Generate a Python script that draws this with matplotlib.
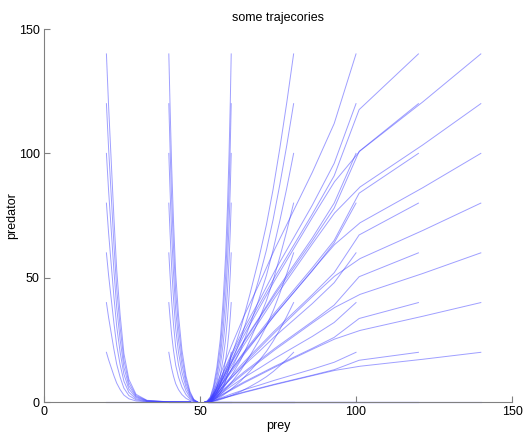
import matplotlib
matplotlib.use("Agg")
import matplotlib.pyplot as plt

# starting predator values for every prey column
start_pred = [20, 40, 60, 80, 100, 120, 140]

# prey path (shared by all starts in a column) and predator values per start
x20 = [20, 20.7, 21.5, 22.4, 23.3, 24.4, 25.6, 27.2, 29.5, 33, 40, 47]
y20 = [
    [20, 17, 14, 10.6, 7.6, 5, 2.8, 1.3, 0.44, 0.1, 0.01, 0],
    [40, 34, 28, 21.2, 15.2, 10, 5.6, 2.6, 0.88, 0.2, 0.02, 0],
    [60, 51, 42, 31.8, 22.8, 15, 8.4, 3.9, 1.3, 0.3, 0.03, 0],
    [80, 68, 56, 42.4, 30.4, 20, 11.2, 5.2, 1.8, 0.4, 0.04, 0],
    [100, 85, 70, 53, 38, 25, 14, 6.5, 2.2, 0.5, 0.05, 0],
    [120, 102, 84, 63.6, 45.6, 30, 16.8, 7.8, 2.6, 0.6, 0.06, 0],
    [140, 119, 98, 74.2, 53.2, 35, 19.6, 9.1, 3.1, 0.7, 0.07, 0],
]

x40 = [40, 40.4, 40.9, 41.5, 42.2, 43.1, 44.2, 45.5, 46.8, 48, 49.2]
y40 = [
    [20, 17, 13.6, 10.4, 7.4, 5, 3, 1.5, 0.6, 0.16, 0],
    [40, 34, 27.2, 20.8, 14.8, 10, 6, 3, 1.2, 0.32, 0],
    [60, 51, 40.8, 31.2, 22.2, 15, 9, 4.5, 1.8, 0.48, 0],
    [80, 68, 54.4, 41.6, 29.6, 20, 12, 6, 2.4, 0.64, 0],
    [100, 85, 68, 52, 37, 25, 15, 7.5, 3, 0.8, 0],
    [120, 102, 81.6, 62.4, 44.4, 30, 18, 9, 3.6, 0.96, 0],
    [140, 119, 95.2, 72.8, 51.8, 35, 21, 10.5, 4.2, 1.1, 0],
]

x60 = [60, 59.7, 59.3, 58.8, 58.2, 57.4, 56.5, 55.4, 54.3, 53.3, 52.3, 51.5]
y60 = [
    [20, 17.2, 14.2, 11.2, 8.4, 5.8, 3.6, 2, 0.9, 0.3, 0.06, 0],
    [40, 34.4, 28.4, 22.4, 16.8, 11.6, 7.2, 4, 1.8, 0.6, 0.12, 0],
    [60, 51.6, 42.6, 33.6, 25.2, 17.4, 10.8, 6, 2.7, 0.9, 0.18, 0],
    [80, 68.8, 56.8, 44.8, 33.6, 23.2, 14.4, 8, 3.6, 1.2, 0.24, 0],
    [100, 86, 71, 56, 42, 29, 18, 10, 4.5, 1.5, 0.3, 0],
    [120, 103.2, 85.2, 67.2, 50.4, 34.8, 21.6, 12, 5.4, 1.8, 0.36, 0],
    [140, 120.4, 99.4, 78.4, 58.8, 40.6, 25.2, 14, 6.3, 2.1, 0.42, 0],
]

x80 = [80, 77.8, 75.6, 73.4, 71.3, 68.8, 66, 63, 60, 57.5, 55.5, 54, 53]
y80 = [
    [20, 17.2, 14.6, 12.2, 10.2, 8.2, 6.2, 4.2, 2.6, 1.4, 0.6, 0.2, 0],
    [40, 34.4, 29.2, 24.4, 20.4, 16.4, 12.4, 8.4, 5.2, 2.8, 1.2, 0.4, 0],
    [60, 51.6, 43.8, 36.6, 30.6, 24.6, 18.6, 12.6, 7.8, 4.2, 1.8, 0.6, 0],
    [80, 68.8, 58.4, 48.8, 40.8, 32.8, 24.8, 16.8, 10.4, 5.6, 2.4, 0.8, 0],
    [100, 86, 73, 61, 51, 41, 31, 21, 13, 7, 3, 1, 0],
    [120, 103.2, 87.6, 73.2, 61.2, 49.2, 37.2, 25.2, 15.6, 8.4, 3.6, 1.2, 0],
    [140, 120.4, 102.2, 85.4, 71.4, 57.4, 43.4, 29.4, 18.2, 9.8, 4.2, 1.4, 0],
]

x100 = [100, 93, 86, 80, 74, 69, 64, 60, 57, 55, 53.5, 52.5]
y100 = [
    [20, 16, 13.2, 11, 8.8, 6.8, 4.9, 3.2, 1.8, 0.84, 0.24, 0],
    [40, 32, 26.4, 22, 17.6, 13.6, 9.8, 6.4, 3.6, 1.7, 0.48, 0],
    [60, 48, 39.6, 33, 26.4, 20.4, 14.7, 9.6, 5.4, 2.5, 0.72, 0],
    [80, 64, 52.8, 44, 35.2, 27.2, 19.6, 12.8, 7.2, 3.4, 0.96, 0],
    [100, 80, 66, 55, 44, 34, 24.5, 16, 9, 4.2, 1.2, 0],
    [120, 96, 79.2, 66, 52.8, 40.8, 29.4, 19.2, 10.8, 5, 1.44, 0],
    [140, 112, 92.4, 77, 61.6, 47.6, 34.3, 22.4, 12.6, 5.9, 1.7, 0],
]

x120 = [120, 101, 93, 86, 80, 74, 69, 64, 60, 57, 55, 53.5, 52.5]
y120 = [
    [20, 16.8, 13, 10.8, 9, 7.2, 5.6, 4, 2.6, 1.5, 0.7, 0.2, 0],
    [40, 33.6, 26, 21.6, 18, 14.4, 11.2, 8, 5.2, 3, 1.4, 0.4, 0],
    [60, 50.4, 39, 32.4, 27, 21.6, 16.8, 12, 7.8, 4.5, 2.1, 0.6, 0],
    [80, 67.2, 52, 43.2, 36, 28.8, 22.4, 16, 10.4, 6, 2.8, 0.8, 0],
    [100, 84, 65, 54, 45, 36, 28, 20, 13, 7.5, 3.5, 1, 0],
    [120, 100.8, 78, 64.8, 54, 43.2, 33.6, 24, 15.6, 9, 4.2, 1.2, 0],
    [140, 117.6, 91, 75.6, 63, 50.4, 39.2, 28, 18.2, 10.5, 4.9, 1.4, 0],
]

x140 = [140, 121.4, 101.3, 93.1, 86, 80, 74, 69, 64, 60, 57, 55, 53.5, 52.5]
y140 = [
    [20, 17.2, 14.4, 12.7, 10.6, 8.8, 7, 5.4, 3.8, 2.4, 1.4, 0.66, 0.2, 0],
    [40, 34.5, 28.8, 25.3, 21.2, 17.6, 14, 10.8, 7.6, 4.8, 2.8, 1.3, 0.4, 0],
    [60, 51.7, 43.3, 38, 31.8, 26.4, 21, 16.2, 11.4, 7.2, 4.2, 2, 0.6, 0],
    [80, 69, 57.7, 50.6, 42.4, 35.2, 28, 21.6, 15.2, 9.6, 5.6, 2.6, 0.8, 0],
    [100, 86.2, 72.1, 63.3, 53, 44, 35, 27, 19, 12, 7, 3.3, 1, 0],
    [120, 103.4, 86.5, 76, 63.6, 52.8, 42, 32.4, 22.8, 14.4, 8.4, 4, 1.2, 0],
    [140, 120.7, 101, 88.6, 74.2, 61.6, 49, 37.8, 26.6, 16.8, 9.8, 4.6, 1.4, 0],
]

# starts with no predator stay on the prey axis
zero_start = [20, 40, 60, 80, 100, 120, 140]
zero_end = [47, 49.2, 51.5, 53, 52.5, 52.5, 52.5]

columns = [(x20, y20), (x40, y40), (x60, y60), (x80, y80),
           (x100, y100), (x120, y120), (x140, y140)]

plt.rcParams['font.family'] = ['Liberation Sans', 'DejaVu Sans']

fig = plt.figure(figsize=(5.29, 4.37), dpi=100)
ax = fig.add_axes([0.0832, 0.08, 0.8847, 0.8535])

for xs, ys in columns:
    for yy in ys:
        ax.plot(xs, yy, color=(0.25, 0.25, 1.0), lw=0.7, alpha=0.5)

for a, b in zip(zero_start, zero_end):
    ax.plot([a, b], [0, 0], color=(0.2, 0.2, 1.0), lw=0.8, alpha=0.7, clip_on=False)

ax.set_xlim(0, 150)
ax.set_ylim(0, 150)
ax.set_xticks([0, 50, 100, 150])
ax.set_yticks([0, 50, 100, 150])

for side in ["top", "right"]:
    ax.spines[side].set_visible(False)
for side in ["left", "bottom"]:
    ax.spines[side].set_color("#808080")
    ax.spines[side].set_linewidth(0.8)
ax.tick_params(direction="in", length=4, width=0.8, color="#808080",
               labelsize=9, pad=3)

ax.set_title("some trajecories", fontsize=9, pad=6)
ax.set_xlabel("prey", fontsize=9, labelpad=1)
ax.set_ylabel("predator", fontsize=9)
ax.yaxis.set_label_coords(-0.056, 0.5)

fig.savefig("out.png", dpi=100)
